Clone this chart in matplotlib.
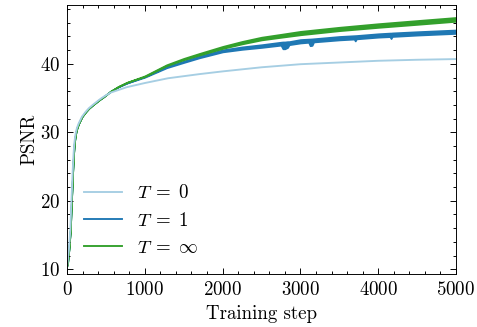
import numpy as np
import matplotlib
matplotlib.use("Agg")
import matplotlib.pyplot as plt

plt.rcParams.update({
    'font.family': 'serif',
    'font.serif': ['cmr10'],
    'mathtext.fontset': 'cm',
    'axes.formatter.use_mathtext': True,
    'font.size': 10,
    'axes.linewidth': 0.5,
    'xtick.direction': 'in', 'ytick.direction': 'in',
    'xtick.top': True, 'ytick.right': True,
    'xtick.minor.visible': True, 'ytick.minor.visible': True,
    'xtick.major.size': 3, 'ytick.major.size': 3,
    'xtick.minor.size': 1.5, 'ytick.minor.size': 1.5,
    'xtick.major.width': 0.5, 'ytick.major.width': 0.5,
    'xtick.minor.width': 0.5, 'ytick.minor.width': 0.5,
    'lines.linewidth': 1.0,
    'legend.frameon': False,
})

labels = [r'$T\;=\;0$', r'$T\;=\;1$', r'$T\;=\;\infty$']
colors = ['#a6cee3', '#1f78b4', '#33a02c']

# warm-up part (all three runs overlap here)
steps_warm = [5, 25, 43, 55, 64, 73, 84, 94, 105, 116, 130, 150, 193, 240,
              279, 320, 364, 420, 471]
psnr_warm = [10.6, 13.0, 15.8, 19.5, 21.8, 24.3, 26.8, 28.4, 29.4, 30.1,
             30.7, 31.3, 32.3, 33.0, 33.5, 33.9, 34.3, 34.8, 35.2]

# T = 0 (smooth)
steps_t0 = [560, 770, 1000, 1300, 1700, 2000, 2500, 3000, 3500, 4000, 4500, 5000]
psnr_t0 = [35.8, 36.6, 37.2, 37.9, 38.5, 38.9, 39.5, 39.95, 40.2, 40.45, 40.6, 40.7]

# T = 1 (noisy band: lower / upper edge)
steps_t1 = [560, 660, 770, 1000, 1280, 1500, 1700, 2000, 2250, 2500, 2750,
            2775, 2800, 2835, 2855, 3000, 3105, 3125, 3150, 3170, 3500, 3690,
            3705, 3720, 4000, 4150, 4165, 4180, 4500, 5000]
psnr_t1_lo = [36.0, 36.65, 37.2, 38.05, 39.43, 40.2, 40.88, 41.75, 42.12,
              42.4, 42.73, 42.2, 42.2, 42.4, 42.8, 43.05, 43.15, 42.65, 42.7,
              43.2, 43.5, 43.62, 43.35, 43.65, 43.9, 43.98, 43.7, 44.0, 44.2,
              44.45]
psnr_t1_hi = [36.0, 36.65, 37.2, 38.15, 39.57, 40.4, 41.12, 42.05, 42.48,
              42.8, 43.17, 43.2, 43.2, 43.25, 43.25, 43.55, 43.62, 43.63,
              43.65, 43.67, 44.0, 44.12, 44.13, 44.14, 44.4, 44.5, 44.5, 44.52,
              44.7, 44.95]

# T = inf (noisy band: lower / upper edge)
steps_tinf = [560, 660, 770, 1000, 1280, 1500, 1700, 2000, 2250, 2500, 2750,
              3000, 3500, 4000, 4500, 5000]
psnr_tinf_lo = [36.0, 36.7, 37.3, 38.15, 39.73, 40.6, 41.28, 42.25, 42.92,
                43.5, 43.88, 44.25, 44.85, 45.33, 45.77, 46.22]
psnr_tinf_hi = [36.0, 36.7, 37.3, 38.25, 39.87, 40.8, 41.52, 42.55, 43.28,
                43.9, 44.32, 44.75, 45.35, 45.87, 46.33, 46.78]

fig = plt.figure(figsize=(477 / 136, 327 / 136), dpi=136)
ax = fig.add_axes([67 / 477, 53 / 327, 389 / 477, 269 / 327])

ax.plot(steps_warm + steps_t0, psnr_warm + psnr_t0, color=colors[0], label=labels[0])
ax.fill_between(steps_warm + steps_t1, psnr_warm + psnr_t1_lo, psnr_warm + psnr_t1_hi,
                color=colors[1], lw=0.9)
ax.plot([], [], color=colors[1], label=labels[1])
ax.fill_between(steps_warm + steps_tinf, psnr_warm + psnr_tinf_lo,
                psnr_warm + psnr_tinf_hi, color=colors[2], lw=0.9)
ax.plot([], [], color=colors[2], label=labels[2])

ax.set_xlim(0, 5000)
ax.set_ylim(9.3, 48.6)
ax.set_xticks([0, 1000, 2000, 3000, 4000, 5000])
ax.set_yticks([10, 20, 30, 40])
ax.xaxis.set_minor_locator(matplotlib.ticker.MultipleLocator(200))
ax.yaxis.set_minor_locator(matplotlib.ticker.MultipleLocator(2))
ax.set_xlabel('Training step', labelpad=3.5)
ax.set_ylabel('PSNR', labelpad=1)
ax.legend(loc='lower left')

fig.savefig('out.png', dpi=136)
